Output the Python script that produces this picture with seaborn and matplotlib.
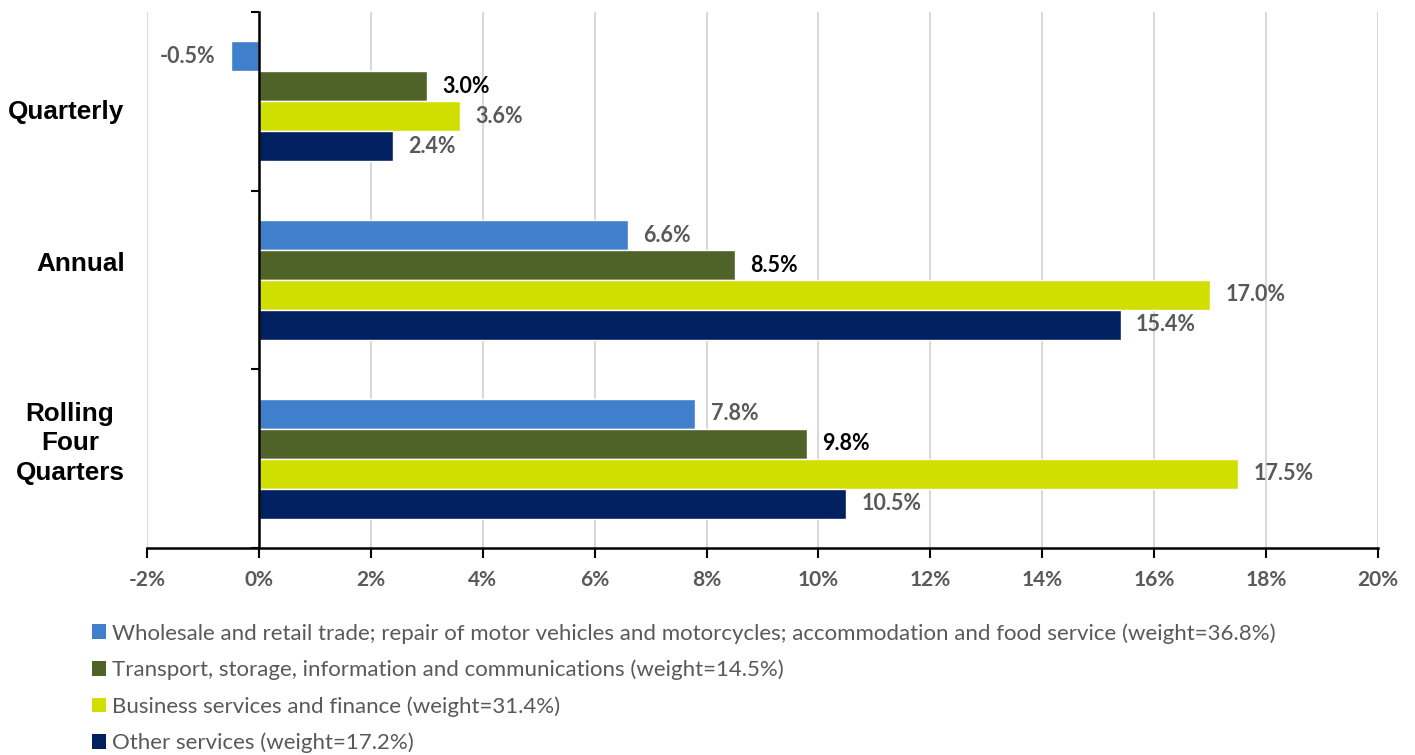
import numpy as np
import pandas as pd
import matplotlib
matplotlib.use("Agg")
import matplotlib.pyplot as plt
from matplotlib.patches import Patch
import seaborn as sns

# data
periods = ["Quarterly", "Annual", "Rolling\nFour\nQuarters"]
sectors = [
    "Wholesale and retail trade; repair of motor vehicles and motorcycles; accommodation and food service (weight=36.8%)",
    "Transport, storage, information and communications (weight=14.5%)",
    "Business services and finance (weight=31.4%)",
    "Other services (weight=17.2%)",
]
wholesale = [-0.5, 6.6, 7.8]
transport = [3.0, 8.5, 9.8]
business = [3.6, 17.0, 17.5]
other = [2.4, 15.4, 10.5]
colors = ["#3F7FCB", "#4F6228", "#D0DF00", "#002060"]
label_colors = ["#595959", "#000000", "#595959", "#595959"]
xticks = [-2, 0, 2, 4, 6, 8, 10, 12, 14, 16, 18, 20]

rows = []
for name, vals in zip(sectors, [wholesale, transport, business, other]):
    for p, v in zip(periods, vals):
        rows.append({"period": p, "sector": name, "growth": v})
df = pd.DataFrame(rows)

sns.set_style("white")
plt.rcParams["font.family"] = ["Liberation Sans", "DejaVu Sans"]
lato = ["Lato", "DejaVu Sans"]

fig = plt.figure(figsize=(14.15, 7.55), dpi=100)
ax = fig.add_axes([147 / 1415, 1 - 548 / 755, (1378 - 147) / 1415, (548 - 12) / 755])

sns.barplot(data=df, y="period", x="growth", hue="sector", order=periods,
            hue_order=sectors, palette=colors, orient="h", width=0.67,
            saturation=1, legend=False, ax=ax, zorder=3)

for cont, lc in zip(ax.containers, label_colors):
    ax.bar_label(cont, labels=[f"{b.get_width():.1f}%" for b in cont], padding=11,
                 color=lc, fontsize=15.5, fontweight="bold", family=lato)

ax.set_xlim(-2, 20)
ax.set_ylim(2.5, -0.5)
ax.set_xticks(xticks)
ax.set_xticklabels([f"{t}%" for t in xticks], fontsize=15, fontweight="bold",
                   color="#595959", family=lato)
ax.xaxis.grid(True, color="#D9D9D9", linewidth=1.5, zorder=0)
ax.set_axisbelow(True)
ax.set_xlabel("")
ax.set_ylabel("")

for s in ["top", "right"]:
    ax.spines[s].set_visible(False)
ax.spines["bottom"].set_color("black")
ax.spines["bottom"].set_linewidth(1.8)
ax.spines["left"].set_position(("data", 0))
ax.spines["left"].set_color("black")
ax.spines["left"].set_linewidth(1.8)
ax.spines["left"].set_zorder(4)
ax.set_yticks([-0.5, 0.5, 1.5, 2.5])
ax.set_yticklabels([])
ax.tick_params(axis="y", direction="out", length=6, width=1.5, color="black", left=True)
ax.tick_params(axis="x", direction="out", length=7, width=1.5, color="black", bottom=True, pad=9)

# category names on the left, outside the plot area (placed as in the original)
name_shift = [0.06, -0.09, -0.085]
for i, (p, dy) in enumerate(zip(periods, name_shift)):
    ax.text(-2.4, i + dy, p, ha="right", va="center", multialignment="center",
            fontsize=18.8, fontweight="bold", color="black", clip_on=False,
            linespacing=1.3)

handles = [Patch(facecolor=c, edgecolor="none") for c in colors]
fig.legend(handles, sectors, loc="upper left", bbox_to_anchor=(72 / 1415, 1 - 603 / 755),
           frameon=False, ncol=1, handlelength=0.65, handleheight=0.65, handletextpad=0.25,
           labelspacing=0.72, prop={"family": lato, "size": 16},
           labelcolor="#595959")

fig.savefig("out.png", dpi=100)
